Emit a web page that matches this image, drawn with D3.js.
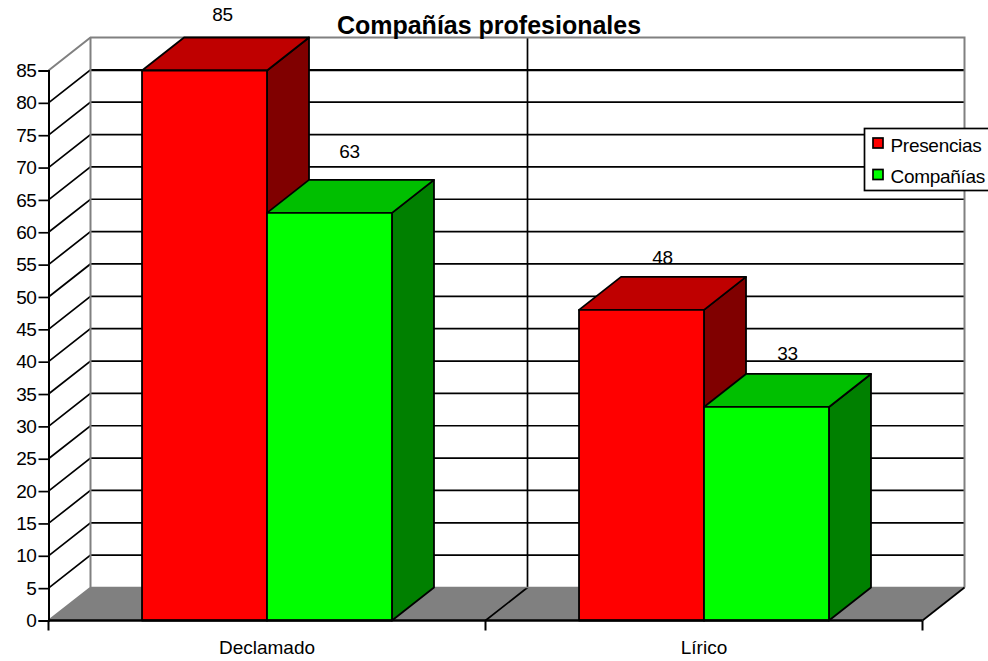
<!DOCTYPE html>
<html>
<head>
<meta charset="utf-8">
<script src="https://cdn.jsdelivr.net/npm/d3@7"></script>
<style>
	html, body { margin: 0; padding: 0; background: #fff; overflow: hidden; }
	text { font-family: "Liberation Sans", Arial, sans-serif; fill: #000; }
</style>
</head>
<body>
<div id="chart-area"></div>
<script>
// Data
var categories = ["Declamado", "Lírico"];
var seriesNames = ["Presencias", "Compañías"];
var presencias = [85, 48];
var companias = [63, 33];
var yTicks = d3.range(0, 90, 5);
var frontColors = ["#ff0000", "#00ff00"];
var topColors = ["#bf0000", "#00bf00"];
var sideColors = ["#800000", "#008000"];

// the value labels are not placed evenly in the original
var labelNudgeX = [-3, -1, 0, 0];
var labelNudgeY = [-2, -7, 2, 1];

// SVG Size
var width = 988,
	height = 661;

// depth of the fake 3D box
var depthX = 42,
	depthY = -33;

var svg = d3.select("#chart-area")
	.append("svg")
	.attr("width", width)
	.attr("height", height)
	.style("display", "block");

var y = d3.scaleLinear().domain([0, 85]).range([620.5, 70.5]);
var x = d3.scaleBand().domain(categories).range([48.5, 922.5])
	.paddingInner(0.428).paddingOuter(0.214);
var xSeries = d3.scaleBand().domain(d3.range(seriesNames.length)).range([0, x.bandwidth()]);

var left = x.range()[0],
	right = x.range()[1],
	step = x.step();

// Floor
svg.append("path")
	.attr("d", "M" + left + "," + y(0) + "L" + (left + depthX) + "," + (y(0) + depthY) +
		"L" + (right + depthX) + "," + (y(0) + depthY) + "L" + right + "," + y(0) + "Z")
	.attr("fill", "#808080");

// Back wall grid lines
yTicks.forEach(function(t) {
	if (t == 0 || t == 85) return;
	svg.append("path")
		.attr("d", "M" + left + "," + y(t) + "L" + (left + depthX) + "," + (y(t) + depthY) +
			"L" + (right + depthX) + "," + (y(t) + depthY))
		.attr("fill", "none")
		.attr("stroke", "#000")
		.attr("stroke-width", 1.7);
});
// grid line of the top value runs on the back wall only
svg.append("line")
	.attr("x1", left + depthX).attr("x2", right + depthX)
	.attr("y1", y(85)).attr("y2", y(85))
	.attr("stroke", "#000").attr("stroke-width", 1.7);

// Divider between the categories
svg.append("path")
	.attr("d", "M" + (left + step) + "," + y(0) + "L" + (left + step + depthX) + "," + (y(0) + depthY) +
		"L" + (left + step + depthX) + "," + (y(85) + depthY))
	.attr("fill", "none").attr("stroke", "#000").attr("stroke-width", 1.7);

// Grey outline of the walls
svg.append("path")
	.attr("d", "M" + left + "," + y(0) + "L" + (left + depthX) + "," + (y(0) + depthY) +
		"L" + (right + depthX) + "," + (y(0) + depthY))
	.attr("fill", "none").attr("stroke", "#808080").attr("stroke-width", 1.7);
svg.append("path")
	.attr("d", "M" + left + "," + y(85) + "L" + (left + depthX) + "," + (y(85) + depthY) +
		"L" + (right + depthX) + "," + (y(85) + depthY) + "L" + (right + depthX) + "," + (y(0) + depthY))
	.attr("fill", "none").attr("stroke", "#808080").attr("stroke-width", 2);
svg.append("line")
	.attr("x1", left + depthX).attr("x2", left + depthX)
	.attr("y1", y(85) + depthY).attr("y2", y(0) + depthY)
	.attr("stroke", "#808080").attr("stroke-width", 2);

// Floor right edge
svg.append("line")
	.attr("x1", right).attr("y1", y(0))
	.attr("x2", right + depthX).attr("y2", y(0) + depthY)
	.attr("stroke", "#000").attr("stroke-width", 1.7);

// Bars, first series first so the second one covers it
var barData = [];
categories.forEach(function(c, i) {
	barData.push({ cat: c, s: 0, value: presencias[i] });
	barData.push({ cat: c, s: 1, value: companias[i] });
});

var bars = svg.selectAll("g.bar")
	.data(barData)
	.enter()
	.append("g")
	.attr("class", "bar")
	.attr("stroke", "#000")
	.attr("stroke-width", 1.8)
	.attr("stroke-linejoin", "round");

function barX(d) { return x(d.cat) + xSeries(d.s); }

bars.append("path")
	.attr("fill", function(d) { return sideColors[d.s]; })
	.attr("d", function(d) {
		var x1 = barX(d) + xSeries.bandwidth();
		return "M" + x1 + "," + y(0) + "L" + (x1 + depthX) + "," + (y(0) + depthY) +
			"L" + (x1 + depthX) + "," + (y(d.value) + depthY) + "L" + x1 + "," + y(d.value) + "Z";
	});

bars.append("path")
	.attr("fill", function(d) { return topColors[d.s]; })
	.attr("d", function(d) {
		var x0 = barX(d), x1 = x0 + xSeries.bandwidth();
		return "M" + x0 + "," + y(d.value) + "L" + (x0 + depthX) + "," + (y(d.value) + depthY) +
			"L" + (x1 + depthX) + "," + (y(d.value) + depthY) + "L" + x1 + "," + y(d.value) + "Z";
	});

bars.append("rect")
	.attr("fill", function(d) { return frontColors[d.s]; })
	.attr("x", barX)
	.attr("y", function(d) { return y(d.value); })
	.attr("width", xSeries.bandwidth())
	.attr("height", function(d) { return y(0) - y(d.value); });

// Value labels
svg.selectAll("text.value")
	.data(barData)
	.enter()
	.append("text")
	.attr("class", "value")
	.attr("x", function(d, i) { return barX(d) + xSeries.bandwidth() / 2 + depthX / 2 + labelNudgeX[i]; })
	.attr("y", function(d, i) { return y(d.value) + depthY - 15 + labelNudgeY[i]; })
	.attr("text-anchor", "middle")
	.attr("font-size", 19)
	.attr("letter-spacing", -0.4)
	.text(function(d) { return d.value; });

// Axes
var yAxis = d3.axisLeft(y).tickValues(yTicks).tickSize(10).tickPadding(2);
var gy = svg.append("g")
	.attr("transform", "translate(" + left + ",0)")
	.call(yAxis);
gy.selectAll("text").attr("font-size", 19).attr("font-family", "Liberation Sans").attr("letter-spacing", -0.4);
gy.selectAll("line").attr("stroke-width", 1.7);
gy.select(".domain").attr("stroke-width", 2);

var xAxis = d3.axisBottom(x).tickSize(0).tickPadding(20);
var gx = svg.append("g")
	.attr("transform", "translate(0," + y(0) + ")")
	.call(xAxis);
gx.select(".domain").attr("d", "M" + left + ",0H" + right).attr("stroke-width", 2.5);
gx.selectAll("text").attr("font-size", 19).attr("font-family", "Liberation Sans");

// category separators on the x axis
svg.selectAll("line.xtick")
	.data(d3.range(categories.length + 1))
	.enter()
	.append("line")
	.attr("class", "xtick")
	.attr("x1", function(d) { return left + d * step; })
	.attr("x2", function(d) { return left + d * step; })
	.attr("y1", y(0))
	.attr("y2", y(0) + 10)
	.attr("stroke", "#000")
	.attr("stroke-width", 2);

// Title
svg.append("text")
	.attr("x", 489)
	.attr("y", 34)
	.attr("text-anchor", "middle")
	.attr("font-size", 25)
	.attr("font-weight", "bold")
	.text("Compañías profesionales");

// Legend
var legend = svg.append("g").attr("transform", "translate(864.5,128.5)");
legend.append("rect")
	.attr("width", 130)
	.attr("height", 62)
	.attr("fill", "#fff")
	.attr("stroke", "#000")
	.attr("stroke-width", 1.7);
seriesNames.forEach(function(name, i) {
	legend.append("rect")
		.attr("x", 8.5)
		.attr("y", 9.5 + i * 31.5)
		.attr("width", 10)
		.attr("height", 10)
		.attr("fill", frontColors[i])
		.attr("stroke", "#000")
		.attr("stroke-width", 1.7);
	legend.append("text")
		.attr("x", 26)
		.attr("y", 23 + i * 31.5)
		.attr("font-size", 19)
		.attr("letter-spacing", -0.3)
		.text(name);
});
</script>
</body>
</html>
